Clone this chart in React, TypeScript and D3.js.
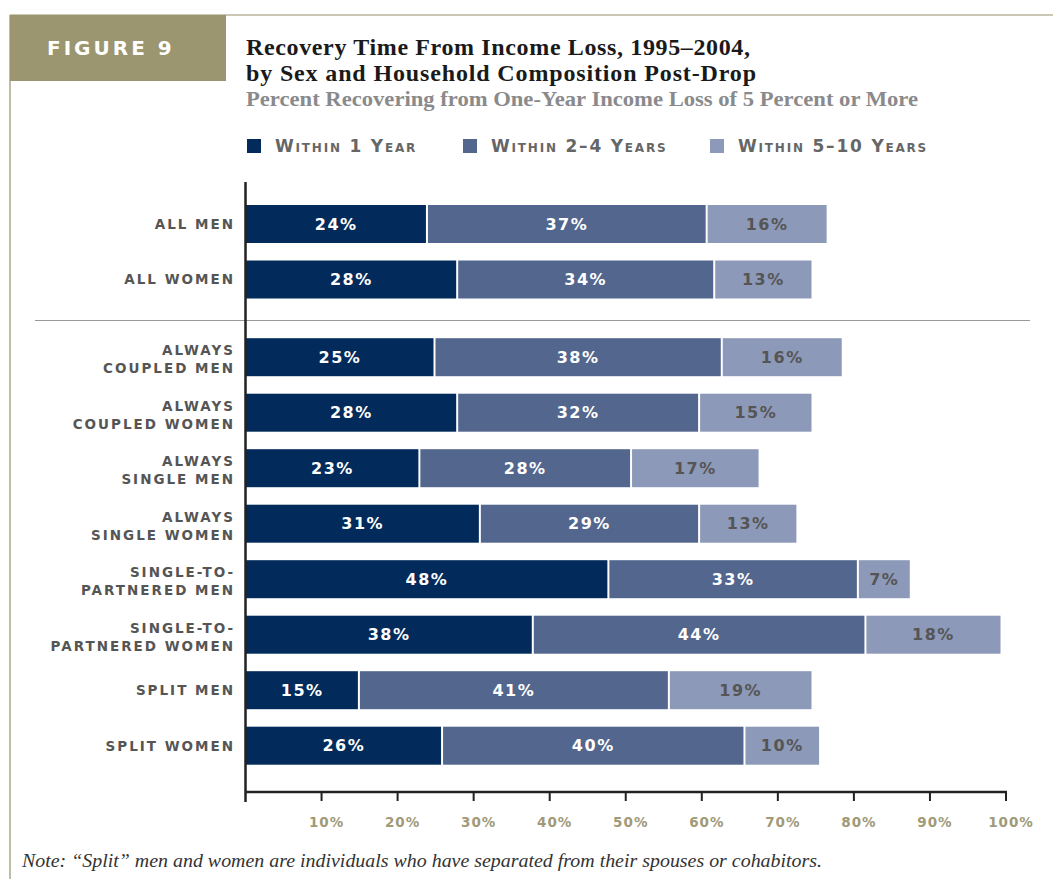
import React from "react";
import * as d3 from "d3";

// rows top to bottom; group 0 = totals, group 1 = by household composition
const categories = [
  ["ALL MEN"],
  ["ALL WOMEN"],
  ["ALWAYS", "COUPLED MEN"],
  ["ALWAYS", "COUPLED WOMEN"],
  ["ALWAYS", "SINGLE MEN"],
  ["ALWAYS", "SINGLE WOMEN"],
  ["SINGLE-TO-", "PARTNERED MEN"],
  ["SINGLE-TO-", "PARTNERED WOMEN"],
  ["SPLIT MEN"],
  ["SPLIT WOMEN"],
];
const groups = [0, 0, 1, 1, 1, 1, 1, 1, 1, 1];

const within1 = [24, 28, 25, 28, 23, 31, 48, 38, 15, 26];
const within2to4 = [37, 34, 38, 32, 28, 29, 33, 44, 41, 40];
const within5to10 = [16, 13, 16, 15, 17, 13, 7, 18, 19, 10];

const seriesNames = ["Within 1 Year", "Within 2–4 Years", "Within 5–10 Years"];
const seriesColors = ["#022b5b", "#53668e", "#8d99b8"];
const labelColors = ["#ffffff", "#ffffff", "#555555"];

const xTicks = [10, 20, 30, 40, 50, 60, 70, 80, 90, 100];

const W = 1053;
const H = 879;
const olive = "#9b9570";
const sans = "'DejaVu Sans', Verdana, sans-serif";
const serif = "'Liberation Serif', 'DejaVu Serif', serif";

export default function App() {
  // axis ticks and bars are slightly off from each other in the original
  const x = d3.scaleLinear().domain([0, 100]).range([245.5, 1006]);
  const xBar = d3.scaleLinear().domain([0, 100]).range([245.5, 1001.5]);
  // row centres; second group gets extra gap for the separator
  const y = d3.scaleLinear().domain([0, 9]).range([224, 723.5]);
  const rowY = (i: number) => y(i + (groups[i] === 1 ? 0.4 : 0));
  const barH = 38;

  const series = [within1, within2to4, within5to10];
  const legendX = [247, 463, 710];

  return (
    <div style={{ position: "absolute", left: 0, top: 0 }}>
      <svg width={W} height={H} style={{ display: "block", background: "#fff" }}>
        {/* frame */}
        <line x1={10} x2={W} y1={15} y2={15} stroke="#b8b59d" strokeWidth={1.5} />
        <line x1={10} x2={10} y1={15} y2={H} stroke="#aaa68a" strokeWidth={1.5} />
        <rect x={10} y={15} width={216} height={66} fill={olive} />
        <text x={47} y={55} fill="#fff" fontFamily={sans} fontWeight="bold" fontSize={20} letterSpacing={3}>
          FIGURE 9
        </text>

        {/* titles */}
        <text fontFamily={serif} fontWeight="bold" fontSize={24} fill="#1a1a1a" lengthAdjust="spacingAndGlyphs">
          <tspan x={246} y={55} textLength={504}>Recovery Time From Income Loss, 1995–2004,</tspan>
          <tspan x={246} y={81} textLength={510}>by Sex and Household Composition Post-Drop</tspan>
        </text>
        <text
          x={246}
          y={106}
          fontFamily={serif}
          fontWeight="bold"
          fontSize={20}
          fill="#8a8a8c"
          textLength={672}
          lengthAdjust="spacingAndGlyphs"
        >
          Percent Recovering from One-Year Income Loss of 5 Percent or More
        </text>

        {/* legend */}
        {seriesNames.map((name, s) => (
          <g key={name}>
            <rect x={legendX[s]} y={139} width={14} height={14} fill={seriesColors[s]} />
            <text
              x={legendX[s] + 28}
              y={152}
              fontFamily={sans}
              fontWeight="bold"
              fontSize={17}
              letterSpacing={1.8}
              fill="#666"
              style={{ fontVariant: "small-caps" }}
            >
              {name}
            </text>
          </g>
        ))}

        {/* separator */}
        <line x1={35} x2={1030} y1={320.5} y2={320.5} stroke="#999" strokeWidth={1} />

        {/* bars */}
        {categories.map((cat, i) => {
          let acc = 0;
          const cy = rowY(i);
          return (
            <g key={cat.join(" ")}>
              {series.map((vals, s) => {
                const v = vals[i];
                const x0 = xBar(acc);
                const x1 = xBar(acc + v);
                acc += v;
                return (
                  <g key={s}>
                    <rect
                      x={x0 + (s === 0 ? 0 : 1)}
                      y={cy - barH / 2}
                      width={x1 - x0 - (s === 0 ? 1 : 2)}
                      height={barH}
                      fill={seriesColors[s]}
                    />
                    <text
                      x={(x0 + x1) / 2}
                      y={cy}
                      dy="0.36em"
                      textAnchor="middle"
                      fontFamily={sans}
                      fontWeight="bold"
                      fontSize={16}
                      letterSpacing={1.5}
                      fill={labelColors[s]}
                    >
                      {v}%
                    </text>
                  </g>
                );
              })}
              <text
                textAnchor="end"
                fontFamily={sans}
                fontWeight="bold"
                fontSize={13.5}
                letterSpacing={2}
                fill="#555"
              >
                {cat.length === 1 ? (
                  <tspan x={235} y={cy} dy="0.36em">
                    {cat[0]}
                  </tspan>
                ) : (
                  cat.map((line, k) => (
                    <tspan key={k} x={235} y={cy + (k === 0 ? -7 : 11)} dy="0.36em">
                      {line}
                    </tspan>
                  ))
                )}
              </text>
            </g>
          );
        })}

        {/* axes */}
        <line x1={x(0)} x2={x(0)} y1={182} y2={802} stroke="#222" strokeWidth={2.5} />
        <line x1={x(0)} x2={x(100) + 1} y1={792} y2={792} stroke="#222" strokeWidth={2.5} />
        {xTicks.map((t) => (
          <g key={t}>
            <line x1={x(t)} x2={x(t)} y1={792} y2={801} stroke="#222" strokeWidth={2} />
            <text
              x={x(t) + 5}
              y={827}
              textAnchor="middle"
              fontFamily={sans}
              fontWeight="bold"
              fontSize={13.5}
              letterSpacing={1}
              fill="#a09a78"
            >
              {t}%
            </text>
          </g>
        ))}

        {/* note */}
        <text
          x={22}
          y={867}
          fontFamily={serif}
          fontStyle="italic"
          fontSize={19}
          fill="#333"
          textLength={800}
          lengthAdjust="spacingAndGlyphs"
        >
          Note: “Split” men and women are individuals who have separated from their spouses or cohabitors.
        </text>
      </svg>
    </div>
  );
}
